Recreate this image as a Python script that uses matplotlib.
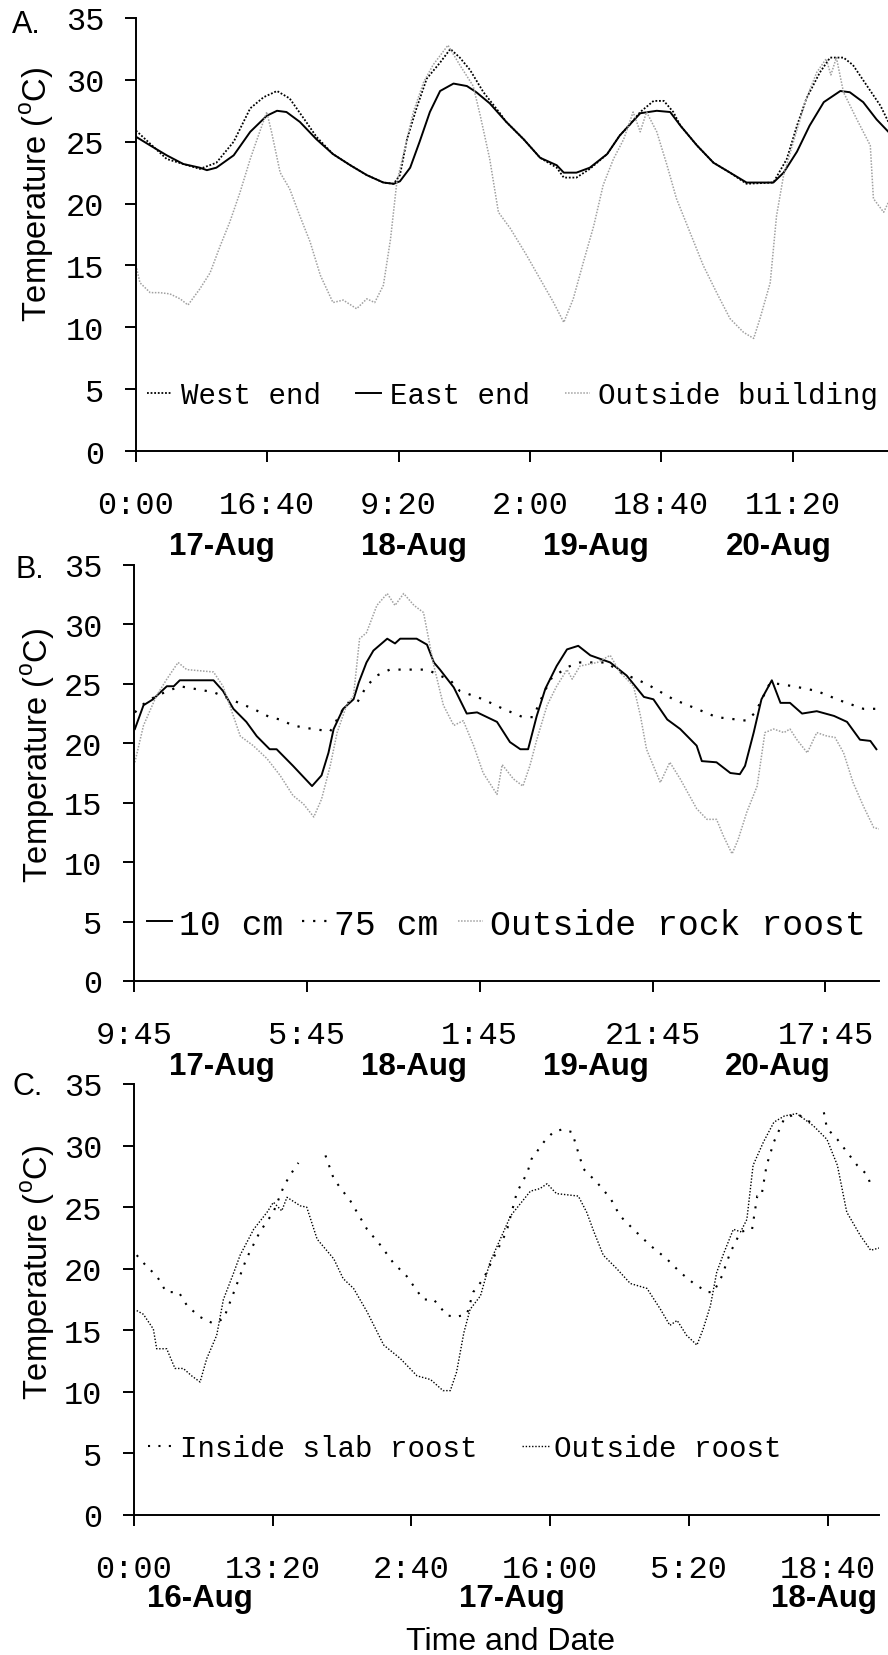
import numpy as np
import matplotlib
matplotlib.use('Agg')
import matplotlib.pyplot as plt
from matplotlib.transforms import blended_transform_factory

nan = np.nan

# ---------------- Panel A data (hours since 0:00 17-Aug) ----------------
A_east_t = [0, 1.8, 3.9, 6, 8.1, 9, 10.2, 12.4, 14.5, 16.6, 17.9, 19.1, 20.8, 22.9, 25, 27.2, 29.3,
            31.4, 32.7, 33.5, 34.8, 36, 37.3, 38.6, 40.3, 42, 43.2, 44.9, 47, 49.2, 51.3, 53.4, 54.3,
            55.9, 57.6, 59.8, 61.4, 62.7, 64, 66.1, 67.8, 69.1, 71.2, 73.3, 75.4, 77.5, 80.9, 82.2,
            83.9, 85.5, 87.3, 89.4, 90.6, 92.3, 94, 95.5]
A_east_v = [25.4, 24.7, 23.9, 23.2, 22.9, 22.7, 22.9, 23.9, 25.8, 27.1, 27.5, 27.4, 26.6, 25.2, 24.0,
            23.1, 22.3, 21.7, 21.6, 21.8, 22.9, 25.0, 27.4, 29.1, 29.7, 29.5, 29.0, 28.1, 26.6, 25.2,
            23.7, 23.1, 22.5, 22.5, 22.9, 24.0, 25.5, 26.4, 27.3, 27.5, 27.4, 26.3, 24.7, 23.3, 22.5,
            21.7, 21.7, 22.5, 24.2, 26.3, 28.2, 29.1, 29.0, 28.2, 26.8, 25.8]
A_west_t = [0, 3.9, 8.1, 10.2, 12.4, 14.5, 16.2, 17.9, 19.5, 21.6, 22.9, 25, 27.2, 29.3, 31.4, 32.7,
            33.5, 34.4, 35.6, 36.9, 38.6, 39.9, 41.1, 42.4, 44.1, 46.2, 47, 49.2, 51.3, 53.4, 54.3,
            55.9, 57.6, 59.8, 61.4, 62.7, 64, 65.7, 67, 68.2, 69.1, 71.2, 73.3, 75.4, 77.5, 80.9,
            82.6, 83.9, 85.1, 86.8, 88.1, 89.8, 91, 92.8, 94.5, 95.5]
A_west_v = [25.9, 23.6, 22.8, 23.3, 25.0, 27.7, 28.6, 29.1, 28.5, 26.6, 25.4, 24.0, 23.1, 22.3, 21.7,
            21.6, 22.3, 25.2, 27.7, 30.1, 31.4, 32.5, 31.8, 30.8, 29.0, 27.3, 26.6, 25.2, 23.7, 22.9,
            22.1, 22.1, 22.8, 24.0, 25.5, 26.4, 27.4, 28.3, 28.3, 27.4, 26.3, 24.7, 23.3, 22.5, 21.6,
            21.7, 23.6, 26.3, 28.5, 30.6, 31.8, 31.8, 31.2, 29.5, 27.9, 26.6]
A_out_t = [0, 0.5, 1.8, 3.0, 4.3, 5.6, 6.6, 8.1, 9.4, 10.7, 11.9, 13.2, 14.5, 15.7, 16.6, 17.2, 18.3,
           19.5, 20.8, 22.1, 23.4, 25.0, 26.3, 28.0, 29.3, 30.3, 31.4, 32.3, 33.1, 34.2, 35.2, 36.5,
           37.7, 39.6, 41.1, 42.8, 43.7, 44.9, 46.0, 47.5, 49.6, 51.3, 53.0, 54.3, 55.5, 56.8, 58.1,
           59.3, 60.6, 61.9, 63.1, 64.0, 64.8, 66.1, 67.4, 68.6, 70.3, 72.0, 73.7, 75.4, 77.1, 78.4,
           79.2, 80.5, 81.3, 82.2, 83.4, 85.1, 86.4, 87.6, 88.2, 88.9, 89.8, 91.5, 93.2, 93.6, 94.9,
           95.5]
A_out_v = [15.0, 13.6, 12.8, 12.8, 12.7, 12.3, 11.8, 13.1, 14.4, 16.6, 18.5, 20.9, 23.6, 25.8, 27.4,
           25.8, 22.5, 21.2, 19.0, 16.9, 14.2, 12.0, 12.2, 11.5, 12.3, 12.0, 13.4, 17.1, 21.7, 24.7,
           27.4, 29.8, 31.2, 32.8, 31.2, 29.5, 27.1, 23.6, 19.3, 18.0, 15.8, 13.9, 12.0, 10.4, 12.3,
           15.3, 18.2, 21.5, 23.6, 25.2, 27.4, 25.8, 27.4, 25.8, 23.1, 20.4, 17.7, 15.0, 12.8, 10.7,
           9.6, 9.1, 10.7, 13.6, 19.0, 22.3, 24.9, 28.5, 30.6, 31.7, 30.4, 31.8, 29.0, 26.8, 24.7,
           20.4, 19.3, 20.1]
A_labels = ['West end', 'East end', 'Outside building']
A_ticks = [0, 1000 / 60, 2000 / 60, 3000 / 60, 4000 / 60, 5000 / 60]
A_ticklabels = ['0:00', '16:40', '9:20', '2:00', '18:40', '11:20']
A_dates = ['17-Aug', '18-Aug', '19-Aug', '20-Aug']

# ---------------- Panel B data (hours since 9:45 17-Aug) ----------------
B_10_t = [0.1, 1.1, 2.2, 3.8, 4.6, 5.3, 9.2, 10.3, 11.5, 13, 14.2, 15.7, 16.5, 18.4, 20.6, 21.7, 22.5,
          23.1, 24.2, 25.4, 26, 26.9, 27.7, 29.3, 30.2, 30.8, 32.7, 33.9, 34.7, 35.4, 37, 38.5, 39.7,
          42, 43.5, 44.7, 45.6, 46.6, 47.6, 48.9, 50.1, 51.4, 52.8, 55.1, 57, 59, 60.1, 61.7, 63.2,
          65.1, 65.7, 67.4, 69, 70.1, 70.7, 71.7, 72.6, 73.8, 74.8, 75.9, 77.3, 79, 81, 82.5, 84,
          85.2, 85.9]
B_10_v = [21.2, 23.2, 23.7, 24.8, 24.8, 25.3, 25.3, 24.4, 22.9, 21.8, 20.6, 19.5, 19.5, 18.1, 16.4,
          17.3, 19.2, 21.2, 22.9, 23.7, 25.1, 26.8, 27.8, 28.8, 28.4, 28.8, 28.8, 28.3, 26.8, 26.2,
          24.7, 22.5, 22.6, 21.8, 20.1, 19.5, 19.5, 22.3, 24.6, 26.5, 27.9, 28.2, 27.4, 26.8, 25.7,
          23.9, 23.7, 22.0, 21.2, 19.8, 18.5, 18.4, 17.5, 17.4, 18.1, 20.9, 23.7, 25.3, 23.4, 23.4,
          22.5, 22.7, 22.3, 21.8, 20.3, 20.2, 19.5]
B_75_t = [0.1, 1.1, 2.6, 5.3, 9.2, 12.8, 13.8, 15.7, 16.9, 18.4, 19.8, 22.7, 24.6, 25.8, 26.9, 28.1,
          29.6, 32.7, 33.9, 36.6, 37.7, 40.4, 42.7, 45, 46.2, 46.9, 48.2, 50.1, 51.6, 54.7, 56.2,
          59.3, 62.4, 65.1, 67.4, 70.9, 71.9, 73.6, 76.3, 79, 81.7, 84.4, 85.9]
B_75_v = [22.6, 23.3, 24.0, 24.8, 24.3, 23.2, 22.9, 22.2, 22.0, 21.5, 21.3, 21.0, 23.4, 23.4, 24.8,
          25.7, 26.2, 26.2, 26.2, 25.3, 24.4, 23.7, 22.9, 22.2, 22.2, 23.4, 25.4, 26.4, 26.8, 26.8,
          26.0, 25.0, 23.7, 22.9, 22.2, 21.9, 22.6, 25.1, 24.8, 24.4, 23.6, 22.9, 22.9]
B_out_t = [0.1, 1.1, 2.6, 3.8, 5.1, 6.1, 9.2, 10.3, 11.5, 12.3, 13.8, 15.4, 16.9, 18.4, 19.6, 20.8,
           21.7, 22.7, 23.5, 24.6, 25.4, 26.1, 26.9, 28.1, 29.3, 30.2, 31.2, 32.4, 33.5, 34.7, 35.8,
           37, 38.1, 39.3, 40.4, 42, 42.6, 43.9, 45, 45.8, 46.6, 47.8, 48.9, 50.1, 50.7, 51.6, 53.6,
           55.1, 56.2, 57.8, 58.6, 59.3, 60.9, 62, 63.2, 65.1, 66.3, 67.4, 68.2, 69.2, 69.9, 70.9,
           72.1, 73, 74, 75.2, 75.9, 76.7, 77.9, 79, 80.2, 81.1, 82.1, 83.2, 84.4, 85.6, 86.2]
B_out_v = [18.4, 21.5, 24.0, 25.4, 26.8, 26.2, 26.0, 24.8, 22.3, 20.6, 19.8, 18.7, 17.3, 15.6, 14.9,
           13.8, 15.3, 18.1, 20.9, 23.2, 24.0, 28.8, 29.3, 31.6, 32.6, 31.6, 32.6, 31.6, 31.0, 26.5,
           23.2, 21.5, 21.9, 19.8, 17.5, 15.7, 18.2, 17.0, 16.4, 18.1, 20.3, 23.2, 24.8, 26.2, 25.4,
           26.5, 26.8, 27.4, 26.0, 24.8, 22.3, 19.5, 16.7, 18.4, 17.0, 14.5, 13.6, 13.6, 12.2, 10.7,
           11.9, 14.2, 16.4, 20.9, 21.2, 20.9, 21.2, 20.3, 19.2, 20.9, 20.6, 20.5, 19.2, 16.7, 14.7,
           12.9, 12.8]
B_labels = ['10 cm', '75 cm', 'Outside rock roost']
B_ticks = [0, 20, 40, 60, 80]
B_ticklabels = ['9:45', '5:45', '1:45', '21:45', '17:45']
B_dates = ['17-Aug', '18-Aug', '19-Aug', '20-Aug']

# ---------------- Panel C data (hours since 0:00 16-Aug) ----------------
C_in_t = [0.26, 1.2, 2.2, 3.1, 4.3, 5.1, 6.3, 7.5, 8.6, 9.6, 10.8, 12.1, 13.4, 14.4, 15.0, 15.8, 17.0,
          18.4, 19.2, 19.8, 20.8, 22.4, 23.7, 24.9, 26.2, 27.8, 28.8, 30.1, 31.0, 32.0, 32.6, 33.6,
          34.5, 35.8, 36.8, 37.8, 38.2, 39.4, 40.3, 41.1, 42.1, 42.6, 43.2, 44.5, 45.8, 46.7, 48.0,
          49.6, 51.2, 52.5, 53.8, 55.1, 55.7, 56.5, 57.3, 58.3, 59.4, 59.9, 60.3, 60.8, 61.5, 62.5,
          63.7, 65.0, 65.6, 65.9, 66.3, 66.6, 67.6, 68.5, 69.5, 70.5, 70.9]
C_in_v = [21.1, 20.2, 19.4, 18.1, 18.1, 17.0, 16.1, 15.6, 15.9, 18.1, 20.8, 23.0, 24.6, 26.7, 27.6,
          28.6, nan, 29.2, 27.3, 26.6, 25.5, 23.2, 21.9, 20.5, 19.4, 17.5, 17.5, 16.2, 16.1, 16.3,
          18.1, 19.2, 20.8, 23.0, 26.2, 27.8, 28.9, 30.3, 31.1, 31.3, 31.1, 29.7, 28.1, 27.0, 25.7,
          24.3, 23.2, 21.9, 20.8, 19.7, 18.8, 18.1, 18.1, 19.4, 21.3, 23.0, 23.2, 25.9, 25.9, 28.4,
          30.3, 32.2, 32.6, 31.9, 31.6, nan, 32.7, 31.4, 30.5, 29.5, 28.4, 27.6, 26.5]
C_out_t = [0.26, 0.9, 1.86, 2.18, 3.14, 3.94, 4.74, 5.54, 6.35, 6.99, 7.95, 8.59, 9.55, 10.2, 11.5,
           12.8, 13.4, 14.2, 14.7, 16.0, 16.6, 17.6, 19.2, 20.1, 21.1, 22.4, 24.0, 25.6, 27.2, 28.5,
           29.7, 30.4, 31.0, 31.7, 32.3, 33.3, 34.2, 35.2, 36.2, 38.1, 39.0, 39.7, 40.6, 42.7, 43.5,
           44.2, 45.1, 46.4, 47.7, 49.3, 50.6, 51.5, 52.2, 53.1, 54.1, 54.7, 55.4, 56.0, 56.7, 57.6,
           58.3, 58.9, 59.5, 60.5, 61.5, 62.5, 63.7, 65.3, 66.6, 67.6, 68.5, 69.8, 70.8, 71.7]
C_out_v = [16.6, 16.3, 15.1, 13.5, 13.5, 11.9, 11.9, 11.3, 10.8, 12.7, 14.6, 17.5, 19.6, 21.1, 23.2,
           24.6, 25.4, 24.7, 25.8, 25.1, 25.0, 22.4, 20.8, 19.2, 18.4, 16.5, 13.8, 12.7, 11.3, 11.0,
           10.1, 10.1, 11.6, 14.8, 16.7, 17.8, 20.5, 22.4, 24.3, 26.3, 26.5, 26.9, 26.1, 25.9, 24.6,
           23.0, 21.1, 20.0, 18.8, 18.4, 16.7, 15.4, 15.8, 14.6, 13.8, 15.1, 17.0, 19.7, 21.3, 23.2,
           23.0, 24.0, 28.4, 30.3, 31.9, 32.4, 32.6, 31.6, 30.5, 28.4, 24.6, 22.7, 21.5, 21.7]
C_labels = ['Inside slab roost', 'Outside roost']
C_ticks = [0, 800 / 60, 1600 / 60, 2400 / 60, 3200 / 60, 4000 / 60]
C_ticklabels = ['0:00', '13:20', '2:40', '16:00', '5:20', '18:40']
C_dates = ['16-Aug', '17-Aug', '18-Aug']

# ---------------- figure ----------------
plt.rcParams['mathtext.fontset'] = 'custom'
plt.rcParams['mathtext.rm'] = 'Liberation Sans'
MONO = 'Liberation Mono'
SANS = 'Liberation Sans'
GREY = '#a0a0a0'

W, H = 888, 1656
fig = plt.figure(figsize=(W / 100, H / 100), dpi=100)


def fx(px):
    return px / W


def fy(py):
    return 1 - py / H


def make_axes(left, right, top, bottom):
    return fig.add_axes([fx(left), fy(bottom), (right - left) / W, (bottom - top) / H])


def style(ax, xmax, ticks, ticklabels):
    ax.set_xlim(0, xmax)
    ax.set_ylim(0, 35)
    ax.set_yticks(range(0, 36, 5))
    ax.set_xticks(ticks)
    ax.set_xticklabels(ticklabels)
    for s in ['top', 'right']:
        ax.spines[s].set_visible(False)
    for s in ['left', 'bottom']:
        ax.spines[s].set_linewidth(1.4)
    ax.tick_params(direction='out', length=8, width=1.4, labelsize=23)
    ax.tick_params(axis='y', pad=15)
    ax.tick_params(axis='x', pad=20)
    for lab in ax.get_xticklabels() + ax.get_yticklabels():
        lab.set_fontfamily(MONO)
    ax.patch.set_visible(False)


def dates(ax, labels, xfracs, baseline_px):
    tr = blended_transform_factory(ax.transAxes, fig.transFigure)
    for lab, xf in zip(labels, xfracs):
        ax.text(xf, fy(baseline_px), lab, transform=tr, ha='center', va='baseline',
                fontsize=22.5, fontweight='bold', family=SANS)


def ylabel(x_px, y_px):
    fig.text(fx(x_px), fy(y_px), r'Temperature ($^{\rm o}$C)', rotation=90,
             rotation_mode='anchor', ha='center', va='baseline', fontsize=23.5, family=SANS)


# ---- Panel A ----
axA = make_axes(136, 888, 19, 452)
l1, = axA.plot(A_west_t, A_west_v, color='black', lw=1.3, ls=(0, (1, 1)))
l2, = axA.plot(A_east_t, A_east_v, color='black', lw=1.4, ls='-')
l3, = axA.plot(A_out_t, A_out_v, color=GREY, lw=1.1, ls=(0, (1, 1)))
style(axA, 95.45, A_ticks, A_ticklabels)
axA.legend([l1, l2, l3], A_labels, ncol=3, loc='center left', bbox_to_anchor=(0.0146, 0.13),
           frameon=False, prop={'family': MONO, 'size': 21}, handlelength=0.86,
           handletextpad=0.3, columnspacing=1.2, borderpad=0, borderaxespad=0)
dates(axA, A_dates, [0.1144, 0.3697, 0.6117, 0.8551], 555)
ylabel(47, 194)
fig.text(fx(12), fy(33), 'A.', fontsize=22, family=SANS, ha='left', va='baseline')

# ---- Panel B ----
axB = make_axes(134, 879, 566, 982)
m1, = axB.plot(B_10_t, B_10_v, color='black', lw=1.4, ls='-')
m2, = axB.plot(B_75_t, B_75_v, color='black', lw=1.6, ls=(0, (1, 4)))
m3, = axB.plot(B_out_t, B_out_v, color=GREY, lw=1.1, ls=(0, (1, 1)))
style(axB, 86.2, B_ticks, B_ticklabels)
axB.legend([m1, m2, m3], B_labels, ncol=3, loc='center left', bbox_to_anchor=(0.0174, 0.137),
           frameon=False, prop={'family': MONO, 'size': 25}, handlelength=0.72,
           handletextpad=0.2, columnspacing=0.55, borderpad=0, borderaxespad=0)
dates(axB, B_dates, [0.1181, 0.3758, 0.6201, 0.8644], 1075)
ylabel(48, 755)
fig.text(fx(15), fy(578), 'B.', fontsize=22, family=SANS, ha='left', va='baseline')

# ---- Panel C ----
axC = make_axes(134, 879, 1085, 1516)
n1, = axC.plot(C_in_t, C_in_v, color='black', lw=1.5, ls=(0, (1, 4)))
n2, = axC.plot(C_out_t, C_out_v, color='black', lw=1.0, ls=(0, (1, 1.3)))
style(axC, 71.6, C_ticks, C_ticklabels)
axC.legend([n1, n2], C_labels, ncol=2, loc='center left', bbox_to_anchor=(0.0188, 0.155),
           frameon=False, prop={'family': MONO, 'size': 21}, handlelength=0.96,
           handletextpad=0.15, columnspacing=1.5, borderpad=0, borderaxespad=0)
dates(axC, C_dates, [0.0886, 0.5074, 0.9262], 1607)
ylabel(48, 1272)
fig.text(fx(12), fy(1095), 'C.', fontsize=22, family=SANS, ha='left', va='baseline')

fig.text(fx(510), fy(1650), 'Time and Date', fontsize=23, family=SANS, ha='center', va='baseline')

fig.savefig('out.png', dpi=100)
